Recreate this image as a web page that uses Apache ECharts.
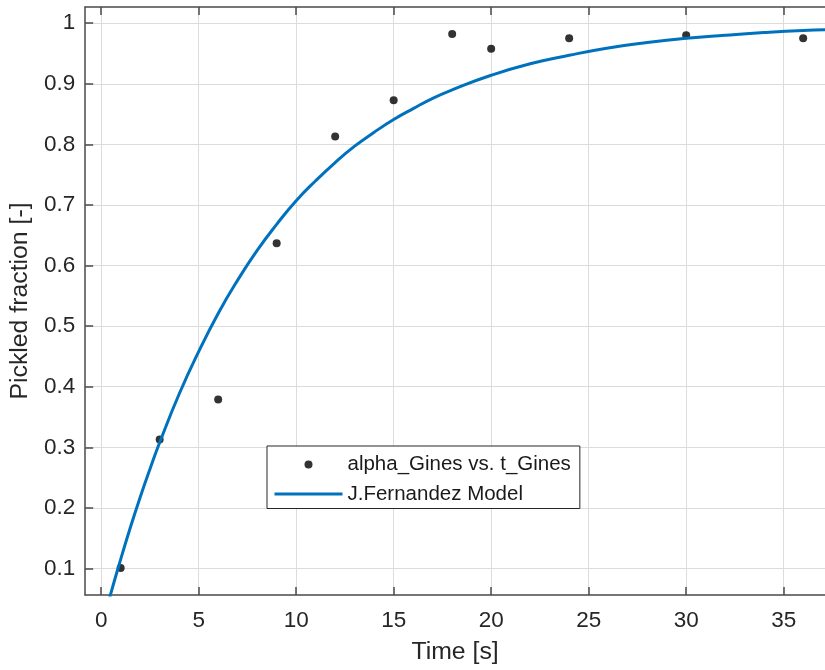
<!DOCTYPE html>
<html><head><meta charset="utf-8">
<script src="https://cdn.jsdelivr.net/npm/echarts@6/dist/echarts.min.js"></script>
<style>html,body{margin:0;padding:0;background:#fff}#c{width:825px;height:670px}</style>
</head><body><div id="c"></div>
<script>
// measured data points
const tGines = [1, 3, 6, 9, 12, 15, 18, 20, 24, 30, 36];
const alphaGines = [0.101, 0.313, 0.379, 0.637, 0.813, 0.873, 0.982, 0.958, 0.975, 0.980, 0.975];
// model curve
const tModel = [0, 0.5, 1, 1.5, 2, 2.5, 3, 4, 5, 6, 7, 8, 9, 10, 11, 12, 13, 14, 15, 16, 17, 18, 20, 22, 24, 26, 28, 30, 32, 34, 36, 37.12];
const alphaModel = [0, 0.0595, 0.115, 0.168, 0.2175, 0.264, 0.308, 0.388, 0.458, 0.521, 0.576, 0.625, 0.668, 0.707, 0.740, 0.770, 0.797, 0.820, 0.841, 0.859, 0.876, 0.890, 0.914, 0.933, 0.947, 0.959, 0.968, 0.975, 0.980, 0.9845, 0.988, 0.989];
const xTicks = [0, 5, 10, 15, 20, 25, 30, 35];
const yTicks = [0.1, 0.2, 0.3, 0.4, 0.5, 0.6, 0.7, 0.8, 0.9, 1];
const yTickLabels = ['0.1', '0.2', '0.3', '0.4', '0.5', '0.6', '0.7', '0.8', '0.9', '1'];
const xRange = [-0.82, 37.12];
const yRange = [0.0563, 1.0267];
const seriesNames = ['alpha_Gines vs. t_Gines', 'J.Fernandez Model'];
const xName = 'Time [s]';
const yName = 'Pickled fraction [-]';

const FONT = 'Liberation Sans, Arial, Helvetica, sans-serif';
const AX = '#4a4a4a';
const TXT = '#262626';

const chart = echarts.init(document.getElementById('c'), null, {renderer: 'canvas'});
const axisLineStyle = {color: AX, width: 1.5};
chart.setOption({
  animation: false,
  backgroundColor: '#fff',
  textStyle: {fontFamily: FONT},
  grid: {left: 85, top: 7, right: 0, bottom: 70, containLabel: false},
  legend: {
    orient: 'vertical',
    left: 267, top: 446,
    padding: [8, 9, 4, 7.5],
    itemGap: 8.5,
    itemWidth: 68, itemHeight: 8,
    symbolKeepAspect: true,
    backgroundColor: '#fff',
    borderColor: '#262626', borderWidth: 1,
    selectedMode: false,
    textStyle: {fontFamily: FONT, fontSize: 20.5, color: '#1a1a1a'},
    data: [
      {name: seriesNames[0], icon: 'circle'},
      {name: seriesNames[1], icon: 'path://M0,0H68V2.8H0Z'}
    ]
  },
  xAxis: [{
    type: 'value', position: 'bottom',
    min: xRange[0], max: xRange[1],
    name: xName, nameLocation: 'middle', nameGap: 45,
    nameTextStyle: {fontFamily: FONT, fontSize: 24.8, color: TXT},
    axisLine: {show: true, onZero: false, lineStyle: axisLineStyle},
    axisTick: {show: true, inside: true, length: 8, lineStyle: axisLineStyle, customValues: xTicks},
    axisLabel: {show: true, margin: 14, fontFamily: FONT, fontSize: 22.5, color: TXT, customValues: xTicks},
    splitLine: {show: true, lineStyle: {color: '#dcdcdc', width: 1}}
  }, {
    type: 'value', position: 'top',
    min: xRange[0], max: xRange[1],
    axisLine: {show: true, onZero: false, lineStyle: axisLineStyle},
    axisTick: {show: true, inside: true, length: 8, lineStyle: axisLineStyle, customValues: xTicks},
    axisLabel: {show: false, customValues: xTicks},
    splitLine: {show: false}
  }],
  yAxis: [{
    type: 'value', position: 'left',
    min: yRange[0], max: yRange[1],
    name: yName, nameLocation: 'middle', nameGap: 45,
    nameTextStyle: {fontFamily: FONT, fontSize: 24.8, color: TXT},
    axisLine: {show: true, onZero: false, lineStyle: axisLineStyle},
    axisTick: {show: true, inside: true, length: 8, lineStyle: axisLineStyle, customValues: yTicks},
    axisLabel: {show: true, margin: 10, padding: [3, 0, 0, 0], fontFamily: FONT, fontSize: 22.5, color: TXT, customValues: yTicks,
      formatter: (v) => { const i = yTicks.findIndex(t => Math.abs(t - v) < 1e-6); return i >= 0 ? yTickLabels[i] : ''; }},
    splitLine: {show: true, lineStyle: {color: '#dcdcdc', width: 1}}
  }],
  series: [{
    name: seriesNames[0], type: 'scatter',
    xAxisIndex: 0, yAxisIndex: 0,
    symbol: 'circle', symbolSize: 8,
    itemStyle: {color: '#000'},
    data: tGines.map((t, i) => [t, alphaGines[i]])
  }, {
    name: seriesNames[1], type: 'line',
    xAxisIndex: 0, yAxisIndex: 0,
    showSymbol: false, smooth: true, clip: true,
    itemStyle: {color: '#0072BD'},
    lineStyle: {color: '#0072BD', width: 3},
    data: tModel.map((t, i) => [t, alphaModel[i]])
  }]
});
</script>
</body></html>
